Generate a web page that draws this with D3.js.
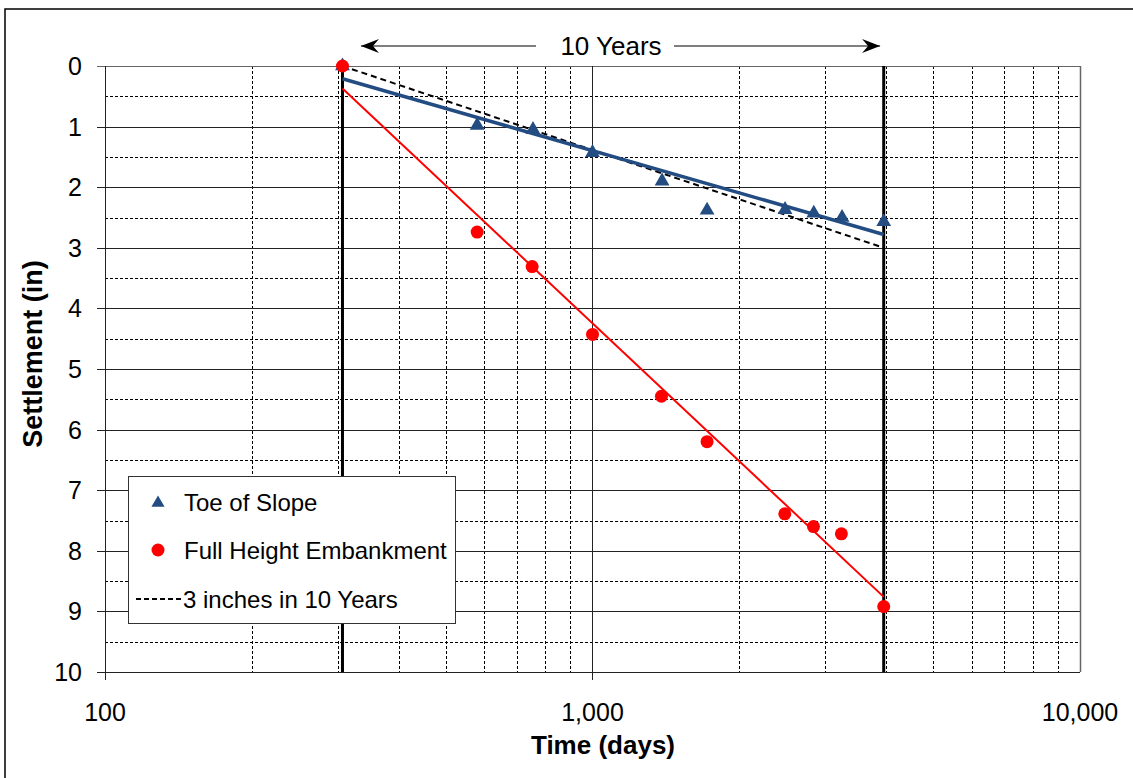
<!doctype html>
<html>
<head>
    <script src="https://cdnjs.cloudflare.com/ajax/libs/d3/7.8.5/d3.min.js" type="text/javascript"></script>
    <style>
      body { margin: 0; background: #fff; }
      text {
        font-family: "Liberation Sans", Arial, sans-serif;
        font-size: 24px;
        fill: #000;
      }
      .title { font-weight: bold; font-size: 26px; }
    </style>
</head>

<body>
    <svg id="chart" width="1133" height="778"></svg>
    <script>
    // readings (days, inches of settlement)
    var toeDays  = [307, 580, 755, 1000, 1389, 1718, 2483, 2844, 3250, 3957];
    var toeSettl = [0, 0.98, 1.05, 1.43, 1.9, 2.38, 2.37, 2.43, 2.5, 2.57];

    var fullDays  = [307, 580, 752, 1000, 1385, 1718, 2480, 2840, 3240, 3957];
    var fullSettl = [0, 2.74, 3.31, 4.43, 5.45, 6.2, 7.39, 7.6, 7.72, 8.92];

    // trend lines, end points only (straight on a log axis)
    var trendDays = [307, 3957];
    var toeTrend  = [0.21, 2.78];
    var fullTrend = [0.37, 8.76];
    var refTrend  = [0, 3];   // 3 inches in 10 years

    var tenYearMarks = [307, 3957];
    var arrowDays = [335, 3890];

    var xMajor = [100, 1000, 10000];
    var xMinor = [200, 300, 400, 500, 600, 700, 800, 900, 2000, 3000, 4000, 5000, 6000, 7000, 8000, 9000];
    var yMajor = [0, 1, 2, 3, 4, 5, 6, 7, 8, 9, 10];
    var yMinor = [0.5, 1.5, 2.5, 3.5, 4.5, 5.5, 6.5, 7.5, 8.5, 9.5];

    var blue = "#234C82", red = "#ff0000";

    var svg = d3.select("#chart");

    var x = d3.scaleLog().domain([100, 10000]).range([105, 1080]);
    var y = d3.scaleLinear().domain([0, 10]).range([66, 672]);

    // outer frame, runs off the bottom and right of the picture
    svg.append("rect")
        .attr("x", 5).attr("y", 9).attr("width", 1200).attr("height", 900)
        .attr("fill", "none").attr("stroke", "#000").attr("stroke-width", 1.5);

    var grid = svg.append("g");

    grid.selectAll("line.xmin").data(xMinor).enter().append("line")
        .attr("x1", d => Math.round(x(d)) + 0.5).attr("x2", d => Math.round(x(d)) + 0.5)
        .attr("y1", y(0)).attr("y2", y(10))
        .attr("stroke", "#000").attr("stroke-dasharray", "3,2");

    grid.selectAll("line.ymin").data(yMinor).enter().append("line")
        .attr("y1", d => Math.round(y(d)) + 0.5).attr("y2", d => Math.round(y(d)) + 0.5)
        .attr("x1", x(100)).attr("x2", x(10000))
        .attr("stroke", "#000").attr("stroke-dasharray", "3,2");

    grid.selectAll("line.ymaj").data(yMajor).enter().append("line")
        .attr("y1", d => Math.round(y(d)) + 0.5).attr("y2", d => Math.round(y(d)) + 0.5)
        .attr("x1", x(100) - 8).attr("x2", x(10000))
        .attr("stroke", d => (d == 0 ? "#666" : "#222"));

    grid.selectAll("line.xmaj").data(xMajor).enter().append("line")
        .attr("x1", d => Math.round(x(d)) + 0.5).attr("x2", d => Math.round(x(d)) + 0.5)
        .attr("y1", y(0)).attr("y2", d => (d == 10000 ? y(10) : y(10) + 8))
        .attr("stroke", d => (d == 10000 ? "#666" : "#222"))
        .attr("stroke-width", d => (d == 10000 ? 1.5 : 1));

    // tick labels
    svg.selectAll("text.ylab").data(yMajor).enter().append("text")
        .attr("x", 82).attr("y", d => y(d) + 9)
        .attr("text-anchor", "end")
        .style("font-size", "25px")
        .text(d => d);

    svg.selectAll("text.xlab").data(xMajor).enter().append("text")
        .attr("x", d => x(d)).attr("y", 721)
        .attr("text-anchor", "middle")
        .style("font-size", "25px")
        .text(d3.format(","));

    svg.append("text").attr("class", "title")
        .attr("x", 603).attr("y", 754).attr("text-anchor", "middle")
        .text("Time (days)");

    svg.append("text").attr("class", "title")
        .attr("transform", "translate(42,354) rotate(-90)")
        .attr("text-anchor", "middle")
        .style("font-size", "27px")
        .text("Settlement (in)");

    // 10 year limits
    svg.selectAll("line.limit").data(tenYearMarks).enter().append("line")
        .attr("x1", d => x(d)).attr("x2", d => x(d))
        .attr("y1", y(0)).attr("y2", y(10))
        .attr("stroke", "#000").attr("stroke-width", 3);

    var line = d3.line().x(d => x(d[0])).y(d => y(d[1]));

    svg.append("path")
        .attr("d", line(d3.zip(trendDays, refTrend)))
        .attr("fill", "none").attr("stroke", "#000").attr("stroke-width", 2)
        .attr("stroke-dasharray", "6,4");

    svg.append("path")
        .attr("d", line(d3.zip(trendDays, toeTrend)))
        .attr("fill", "none").attr("stroke", blue).attr("stroke-width", 3.5);

    svg.append("path")
        .attr("d", line(d3.zip(trendDays, fullTrend)))
        .attr("fill", "none").attr("stroke", red).attr("stroke-width", 2);

    var tri = d3.symbol().type(d3.symbolTriangle).size(95);

    svg.selectAll("path.toe").data(d3.zip(toeDays, toeSettl)).enter().append("path")
        .attr("d", tri)
        .attr("transform", d => "translate(" + x(d[0]) + "," + y(d[1]) + ")")
        .attr("fill", blue);

    svg.selectAll("circle.full").data(d3.zip(fullDays, fullSettl)).enter().append("circle")
        .attr("cx", d => x(d[0])).attr("cy", d => y(d[1])).attr("r", 6.5)
        .attr("fill", red);

    // 10 Years annotation
    svg.append("defs").append("marker")
        .attr("id", "head").attr("viewBox", "0 0 20 14")
        .attr("refX", 18).attr("refY", 7)
        .attr("markerWidth", 20).attr("markerHeight", 14)
        .attr("markerUnits", "userSpaceOnUse")
        .attr("orient", "auto")
        .append("path").attr("d", "M0,0 L18,7 L0,14 L6,7 Z").attr("fill", "#000");

    svg.append("line")
        .attr("x1", 536).attr("x2", x(arrowDays[0]))
        .attr("y1", 46).attr("y2", 46)
        .attr("stroke", "#000").attr("stroke-width", 1.2)
        .attr("marker-end", "url(#head)");
    svg.append("line")
        .attr("x1", 674).attr("x2", x(arrowDays[1]))
        .attr("y1", 46).attr("y2", 46)
        .attr("stroke", "#000").attr("stroke-width", 1.2)
        .attr("marker-end", "url(#head)");
    svg.append("text")
        .attr("x", 611).attr("y", 55).attr("text-anchor", "middle")
        .style("font-size", "26px")
        .text("10 Years");

    // legend
    var lg = svg.append("g");
    lg.append("rect")
        .attr("x", 128.5).attr("y", 476.5).attr("width", 327).attr("height", 147)
        .attr("fill", "#fff").attr("stroke", "#333");

    lg.append("path").attr("d", d3.symbol().type(d3.symbolTriangle).size(75))
        .attr("transform", "translate(158,503)").attr("fill", blue);
    lg.append("text").attr("x", 184).attr("y", 511).text("Toe of Slope");

    lg.append("circle").attr("cx", 158).attr("cy", 550).attr("r", 6.5).attr("fill", red);
    lg.append("text").attr("x", 184).attr("y", 559).text("Full Height Embankment");

    lg.append("line").attr("x1", 136).attr("x2", 181).attr("y1", 599).attr("y2", 599)
        .attr("stroke", "#000").attr("stroke-width", 2).attr("stroke-dasharray", "5,3");
    lg.append("text").attr("x", 183).attr("y", 608).text("3 inches in 10 Years");
    </script>
</body>
</html>
